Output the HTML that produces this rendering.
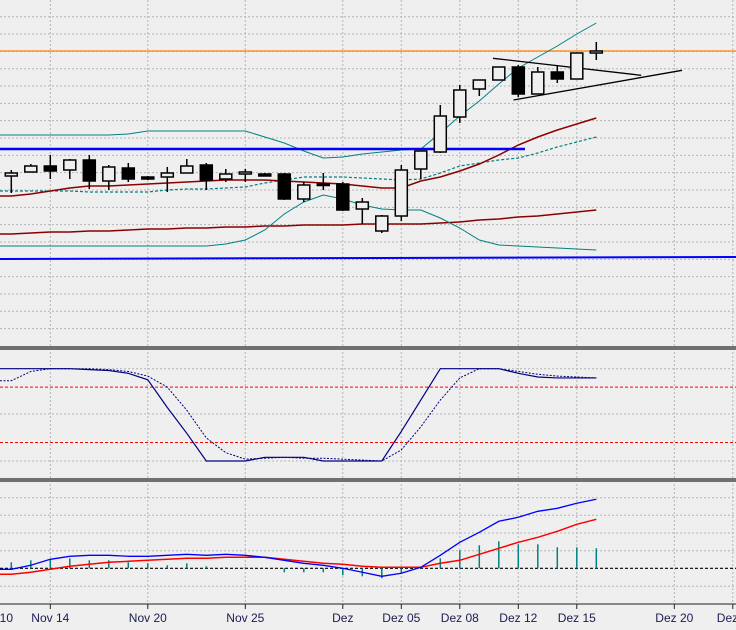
<!DOCTYPE html>
<html><head><meta charset="utf-8">
<style>
html,body{margin:0;padding:0;background:#efefef;}
svg{display:block;}
text{font-family:"Liberation Sans",sans-serif;font-size:12px;fill:#1b1b50;}
</style></head>
<body>
<svg id="chart" width="736" height="630" viewBox="0 0 736 630" xmlns="http://www.w3.org/2000/svg">
<rect x="0" y="0" width="736" height="630" fill="#efefef"/>
<g id="grid"></g>
<g id="price"></g>
<g id="stoch"></g>
<g id="macd"></g>
<g id="axis"></g>
</svg>
<script>
const opens  = [174,178,184,180,190,169,182,173,173,177,185,171,176,176,176,151,166,166,141,119,134,181,198,233,261,270,283,256,278,271,297];
const highs  = [180,186,195,191,195,185,187,174,183,191,187,181,181,177,177,168,177,168,152,135,185,199,245,265,270,283,285,283,285,297,308];
const lows   = [157,178,171,171,161,160,168,170,158,177,160,168,168,174,150,148,160,139,126,117,129,171,197,227,254,270,253,256,267,271,290];
const closes = [177,184,179,190,169,183,171,171,177,184,170,176,178,174,151,165,165,140,148,134,180,199,234,260,270,283,256,278,271,297,299];
const bbUpper = [215,215,215,215,215,215,216,219,219,219,219,219,219,213,207,199,192,193,196,198,200,201,217,234,249,266,282,293,304,316,327];
const bbMid   = [159,159,159,159,158,158,158,158,160,161,161,162,163,167,170,173,173,173,172,171,170,171,177,184,187,190,192,197,203,208,213];
const bbLower = [104,104,104,104,104,104,104,104,104,104,104,106,110,120,136,148,155,151,145,141,140,140,132,122,110,105,104,103,102,101,100];
const maShort = [154,156,159,162,164,164,165,166,167,168,169,170,170,170,169,168,167,166,164,162,162,169,173,179,186,195,205,213,220,226,232];
const maLong  = [116,117,118,118,119,119,120,121,121,122,122,123,123,124,124,125,125,125,126,126,126,126,127,128,130,131,133,134,136,138,140];
const resistanceLevel = 201;
const supportLevel = [91,93];
const orangeLevel = 299;
const triUpper = [[24.7,291.7],[32.3,274.7]];
const triLower = [[25.75,250],[34.4,279.7]];
const stochK = [100,100,100,100,99,98,95,88,58,30,0,0,0,4,4,4,0,0,0,0,32,66,100,100,100,100,95,91,90,90,90];
const stochD = [87,97,100,100,100,99,97,92,80,55,25,9,2,3,4,3,3,2,1,0,12,37,66,90,100,100,97,94,92,91,90];
const macdLine = [-1,3,9,12,13,13,12,12,13,14,13,14,13,11,8,5,3,0,-4,-8,-5,1,13,26,36,47,51,57,60,65,69];
const signalLine = [-6,-4,-1,2,4,6,7,8,9,10,10,11,11,11,9,7,5,4,2,1,1,1,5,8,14,20,26,31,37,44,49];
const histogram = [6,8,9,10,8,8,6,5,3,5,2,1,1,0,-4,-4,-4,-7,-8,-10,-5,1,10,18,23,27,24,24,21,21,20];
const tickIdx = [2,7,12,17,20,23,26,29,34,37];
const tickLabels = ["Nov 14","Nov 20","Nov 25","Dez","Dez 05","Dez 08","Dez 12","Dez 15","Dez 20","Dez"];

const NS="http://www.w3.org/2000/svg";
const X = i => 11.3 + 19.5*i;
const YP = v => 350 - v;
const YS = s => 461 - s*0.923;
const YM = m => 568.3 - m;
function mk(tag, parent, attrs){const e=document.createElementNS(NS,tag);for(const k in attrs)e.setAttribute(k,attrs[k]);parent.appendChild(e);return e;}
const grid=document.getElementById('grid'), price=document.getElementById('price'), stoch=document.getElementById('stoch'), macd=document.getElementById('macd'), axis=document.getElementById('axis');
const dot={stroke:"#b5b5b5","stroke-width":1,"stroke-dasharray":"2,2",fill:"none"};

for(let y=16.7;y<345;y+=17.33){const l=mk('line',grid,Object.assign({x1:0,x2:736,y1:y,y2:y},dot));}
[368.7,414,461].forEach(y=>{const l=mk('line',grid,Object.assign({x1:0,x2:736,y1:y,y2:y},dot));});
[497.7,515.3,533,550.7,586.3].forEach(y=>{const l=mk('line',grid,Object.assign({x1:0,x2:736,y1:y,y2:y},dot));});
tickIdx.forEach(i=>{const l=mk('line',grid,Object.assign({x1:X(i),x2:X(i),y1:0,y2:604},dot));});

function poly(parent,arr,yf,attrs,name){const pts="0,"+yf(arr[0])+" "+arr.map((v,i)=>X(i)+","+yf(v)).join(" ");const p=mk('polyline',parent,Object.assign({points:pts,fill:"none"},attrs));return p;}
function seg(parent,x1,y1,x2,y2,attrs,name){const l=mk('line',parent,Object.assign({x1,y1,x2,y2},attrs));return l;}

seg(price,0,YP(orangeLevel),736,YP(orangeLevel),{stroke:"#ff8000","stroke-width":1.3},'orange-level-line');
poly(price,maLong,YP,{stroke:"#8b0000","stroke-width":1.5},'long-moving-average');
poly(price,bbLower,YP,{stroke:"#008080","stroke-width":1},'bollinger-lower');
poly(price,bbUpper,YP,{stroke:"#008080","stroke-width":1},'bollinger-upper');
poly(price,bbMid,YP,{stroke:"#008080","stroke-width":1.2,"stroke-dasharray":"3,2"},'bollinger-middle');
poly(price,maShort,YP,{stroke:"#8b0000","stroke-width":1.5},'short-moving-average');
seg(price,0,YP(resistanceLevel),525,YP(resistanceLevel),{stroke:"#0000ff","stroke-width":2.5},'resistance-line');
seg(price,0,YP(supportLevel[0]),736,YP(supportLevel[1]),{stroke:"#0000ff","stroke-width":2},'support-line');
seg(price,X(triUpper[0][0]),YP(triUpper[0][1]),X(triUpper[1][0]),YP(triUpper[1][1]),{stroke:"#000","stroke-width":1.3},'triangle-upper-line');
seg(price,X(triLower[0][0]),YP(triLower[0][1]),X(triLower[1][0]),YP(triLower[1][1]),{stroke:"#000","stroke-width":1.3},'triangle-lower-line');

opens.forEach((o,i)=>{
  const c=closes[i],x=X(i);
  const g=mk('g',price,{});
  
  
  mk('line',g,{x1:x,x2:x,y1:YP(highs[i]),y2:YP(lows[i]),stroke:"#000","stroke-width":1.5});
  const top=YP(Math.max(o,c)),bot=YP(Math.min(o,c));
  mk('rect',g,{x:x-6,y:top,width:12,height:Math.max(bot-top,1.5),fill:c>=o?"#efefef":"#000",stroke:"#000","stroke-width":1.5});
});

const s1=mk('rect',grid,{x:0,y:346,width:736,height:4,fill:"#707070"});


const s2=mk('rect',grid,{x:0,y:478,width:736,height:4,fill:"#707070"});



seg(stoch,0,YS(80),736,YS(80),{stroke:"#ff0000","stroke-width":1,"stroke-dasharray":"3,2"},'overbought-line');
seg(stoch,0,YS(20),736,YS(20),{stroke:"#ff0000","stroke-width":1,"stroke-dasharray":"3,2"},'oversold-line');
poly(stoch,stochD,YS,{stroke:"#000080","stroke-width":1,"stroke-dasharray":"2,1.5"},'stochastic-d-line');
poly(stoch,stochK,YS,{stroke:"#000080","stroke-width":1.2},'stochastic-k-line');

seg(macd,0,YM(0),736,YM(0),{stroke:"#000","stroke-width":1.2,"stroke-dasharray":"3,2"},'macd-zero-line');
histogram.forEach((h,i)=>{const l=mk('line',macd,{x1:X(i),x2:X(i),y1:YM(0),y2:YM(h),stroke:"#008080","stroke-width":1.5});});
poly(macd,signalLine,YM,{stroke:"#ff0000","stroke-width":1.5},'macd-signal-line');
poly(macd,macdLine,YM,{stroke:"#0000ff","stroke-width":1.3},'macd-line');

seg(axis,0,604,736,604,{stroke:"#222","stroke-width":1},'x-axis-line');
tickIdx.forEach((i,k)=>{
  seg(axis,X(i),604,X(i),609,{stroke:"#222","stroke-width":1},'x-tick');
  const t=mk('text',axis,{x:X(i),y:622,"text-anchor":k===tickIdx.length-1?"start":"middle"});
  if(k===tickIdx.length-1)t.setAttribute('x',X(i)-16);
  t.textContent=tickLabels[k];
  
  
});
const t0=mk('text',axis,{x:-6,y:622,"text-anchor":"middle"});
t0.textContent="Nov 10";


</script>
</body></html>
